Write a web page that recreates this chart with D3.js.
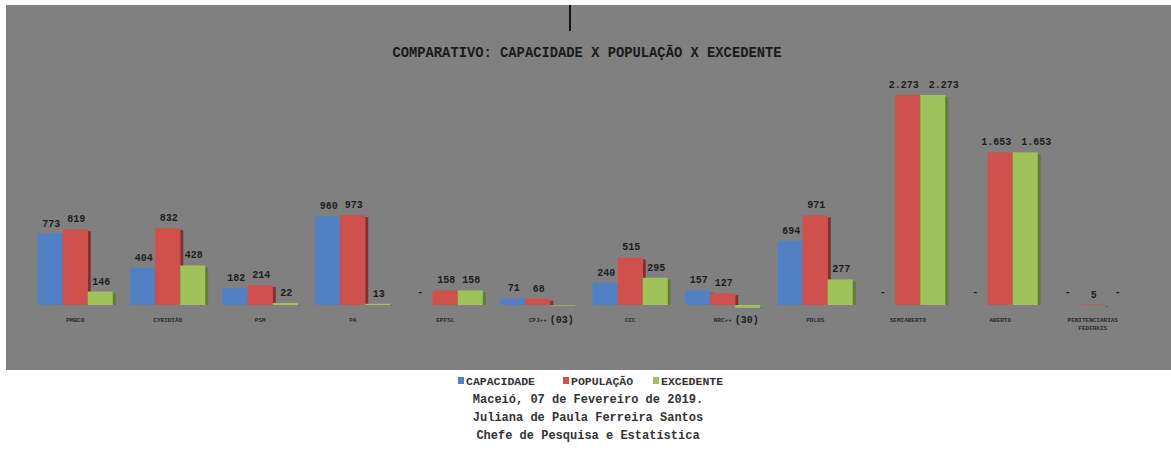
<!DOCTYPE html>
<html><head><meta charset="utf-8">
<script src="https://cdn.jsdelivr.net/npm/d3@7/dist/d3.min.js"></script>
<style>html,body{margin:0;padding:0;background:#fff;}svg{display:block;}</style>
</head><body>
<svg id="chart" width="1171" height="451"></svg>
<script>
const categories = ["PMBCO","CYRIDIÃO","PSM","PA","EPFSL","CPJ++","CCC","NRC++","PDLOS","SEMIABERTO","ABERTO","PENITENCIÁRIAS|FEDERAIS"];
const categoryNotes = ["","","","","","(03)","","(30)","","","",""];
const capacidade = [773,404,182,960,0,71,240,157,694,0,0,0];
const populacao  = [819,832,214,973,158,68,515,127,971,2273,1653,5];
const excedente  = [146,428,22,13,158,-3,295,-30,277,2273,1653,0];
const seriesNames = ["CAPACIDADE","POPULAÇÃO","EXCEDENTE"];
const seriesColors = ["#4f81c4","#d0504d","#9fc25a"];
const sideColors = ["#35609a","#8e2a28","#5f7f2a"];
const title = "COMPARATIVO: CAPACIDADE X POPULAÇÃO X EXCEDENTE";
const footer = ["Maceió, 07 de Fevereiro de 2019.","Juliana de Paula Ferreira Santos","Chefe de Pesquisa e Estatística"];

const series = [capacidade, populacao, excedente];
const svg = d3.select("#chart");
const mono = "'Liberation Mono','DejaVu Sans Mono',monospace";

// panel
svg.append("rect").attr("x",6).attr("y",5).attr("width",1165).attr("height",365).attr("fill","#808080");
svg.append("line").attr("x1",570).attr("x2",570).attr("y1",5).attr("y2",31).attr("stroke","#111").attr("stroke-width",2);

svg.append("text").attr("x",587).attr("y",57).attr("text-anchor","middle")
  .attr("font-family",mono).attr("font-weight","bold").attr("font-size",13.8).attr("fill","#1a1a1a").text(title);

const x0 = d3.scaleBand().domain(d3.range(categories.length)).range([29,1139]).paddingInner(0.19).paddingOuter(0.095);
const x1 = d3.scaleBand().domain([0,1,2]).range([0,x0.bandwidth()]);
const y = d3.scaleLinear().domain([0,2500]).range([305,74]);

const fmt = v => v > 0 ? (v >= 1000 ? d3.format(",")(v).replace(/,/g,".") : String(v)) : (v === 0 ? "-" : "");

const g = svg.append("g");
series.forEach((vals, s) => {
  vals.forEach((v, i) => {
    const bx = x0(i) + x1(s), bw = x1.bandwidth();
    if (v !== 0) {
      const top = Math.min(y(v), y(0)), h = Math.abs(y(v) - y(0));
      g.append("rect").attr("x", bx + bw).attr("y", top + 2).attr("width", 3).attr("height", Math.max(h - 2, 0.5)).attr("fill", sideColors[s]);
      g.append("rect").attr("x", bx).attr("y", top).attr("width", bw).attr("height", Math.max(h, 0.5)).attr("fill", seriesColors[s]);
    }
  });
});
series.forEach((vals, s) => {
  vals.forEach((v, i) => {
    const bx = x0(i) + x1(s), bw = x1.bandwidth();
    const t = fmt(v);
    if (!t) return;
    const ly = v > 0 ? y(v) - 7 : y(0) - 10;
    let dx = v === 0 ? 0 : 1;
    if (v >= 1000) dx = s === 2 ? 11 : -4;
    g.append("text").attr("x", bx + bw/2 + dx).attr("y", ly).attr("text-anchor","middle")
      .attr("font-family",mono).attr("font-weight","bold").attr("font-size",10).attr("fill","#1e1e1e").text(t);
  });
});

// category labels
categories.forEach((c, i) => {
  const cx = x0(i) + x0.bandwidth()/2;
  const lines = c.split("|");
  const t = g.append("text").attr("x", cx).attr("y", 322).attr("text-anchor","middle")
    .attr("font-family",mono).attr("font-weight","bold").attr("font-size",6).attr("fill","#2a2a2a");
  lines.forEach((l, k) => t.append("tspan").attr("x", cx).attr("dy", k ? 8 : 0).text(l));
  if (categoryNotes[i]) {
    g.append("text").attr("x", cx + 12).attr("y", 323).attr("font-family",mono).attr("font-weight","bold")
      .attr("font-size",10).attr("fill","#1e1e1e").text(categoryNotes[i]);
  }
});

// legend
const legX = [458, 563, 653];
seriesNames.forEach((n, s) => {
  svg.append("rect").attr("x", legX[s]).attr("y", 377).attr("width", 6).attr("height", 7).attr("fill", seriesColors[s]);
  svg.append("text").attr("x", legX[s] + 8).attr("y", 384.5).attr("font-family",mono).attr("font-weight","bold")
    .attr("font-size",11.5).attr("fill","#333").text(n);
});
footer.forEach((l, k) => {
  svg.append("text").attr("x", 588).attr("y", 403 + k*18).attr("text-anchor","middle").attr("font-family",mono)
    .attr("font-weight","bold").attr("font-size",12).attr("fill","#333").text(l);
});
</script>
</body></html>
